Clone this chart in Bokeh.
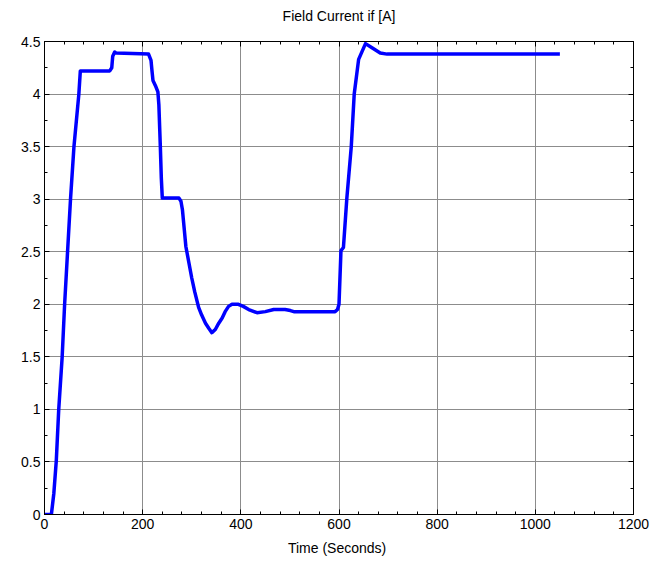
from bokeh.plotting import figure
from bokeh.models import LinearAxis, FixedTicker, Range1d, Grid, Title
from bokeh.embed import file_html
from bokeh.resources import INLINE

# Data
time_s = [0, 14, 19, 24, 29, 36, 41, 47, 53, 60, 70, 73,
          133, 137, 139, 143, 146, 212, 217, 219, 221, 226, 231, 233, 236, 238, 240,
          274, 278, 281, 283, 285, 288, 294, 300, 306, 314, 320, 328, 335, 341,
          348, 355, 362, 368, 375, 382, 395, 405, 416, 433, 450, 467, 490, 501, 508,
          592, 597, 600, 604, 609, 616, 625, 631, 640, 654,
          664, 684, 698, 1050]
field_current = [0, 0, 0.2, 0.51, 1.0, 1.5, 2.0, 2.5, 3.0, 3.5, 4.0, 4.22,
                 4.22, 4.25, 4.36, 4.40, 4.39, 4.38, 4.32, 4.22, 4.13, 4.08, 4.02, 3.9, 3.5, 3.2, 3.01,
                 3.01, 2.98, 2.9, 2.8, 2.7, 2.55, 2.4, 2.25, 2.12, 1.97, 1.9, 1.82, 1.77, 1.73,
                 1.76, 1.82, 1.87, 1.93, 1.98, 2.0, 2.0, 1.98, 1.95, 1.92, 1.93, 1.95, 1.95, 1.94, 1.93,
                 1.93, 1.95, 2.0, 2.51, 2.54, 3.01, 3.5, 4.0, 4.33, 4.48,
                 4.45, 4.39, 4.38, 4.38]
x_ticks = [0, 200, 400, 600, 800, 1000, 1200]
y_ticks = [0, 0.5, 1, 1.5, 2, 2.5, 3, 3.5, 4, 4.5]
y_tick_labels = {0: "0", 0.5: "0.5", 1: "1", 1.5: "1.5", 2: "2", 2.5: "2.5",
                 3: "3", 3.5: "3.5", 4: "4", 4.5: "4.5"}
title_text = "Field Current if [A]"

FONT = "Liberation Sans"

p = figure(width=669, height=567, output_backend="svg", toolbar_location=None,
           x_range=Range1d(0, 1200), y_range=Range1d(0, 4.5),
           x_axis_location=None, y_axis_location=None,
           min_border_left=44, min_border_right=36, min_border_top=40, min_border_bottom=53)
p.outline_line_color = "black"
p.background_fill_color = "white"
p.border_fill_color = "white"

minor_x = [v for v in range(0, 1201, 40)]
minor_y = [i * 0.25 for i in range(0, 19)]

def mk_axis(labels=True, xaxis=True):
    ax = LinearAxis()
    ax.ticker = FixedTicker(ticks=x_ticks if xaxis else y_ticks,
                            minor_ticks=minor_x if xaxis else minor_y)
    ax.major_tick_in = 5
    ax.major_tick_out = 0
    ax.minor_tick_in = 3
    ax.minor_tick_out = 0
    ax.axis_line_color = "black"
    ax.major_tick_line_color = "black"
    ax.minor_tick_line_color = "black"
    ax.major_label_text_font = FONT
    ax.major_label_text_font_size = "14px"
    ax.major_label_text_color = "black"
    if not labels:
        ax.major_label_text_font_size = "0px"
        ax.major_label_text_alpha = 0
        ax.major_label_standoff = 0
    return ax

bottom = mk_axis(True, True)
bottom.axis_label = "Time  (Seconds)"
bottom.axis_label_text_font = FONT
bottom.axis_label_text_font_size = "14px"
bottom.axis_label_text_font_style = "normal"
bottom.axis_label_text_color = "black"
bottom.axis_label_standoff = 8
bottom.major_label_standoff = 4
p.add_layout(bottom, "below")

left = mk_axis(True, False)
left.major_label_overrides = y_tick_labels
left.major_label_standoff = 4
p.add_layout(left, "left")

p.add_layout(mk_axis(False, True), "above")
p.add_layout(mk_axis(False, False), "right")

# spacer between frame and title, then the real title
p.add_layout(Title(text=" ", text_font_size="1px"), "above")
p.add_layout(Title(text=title_text, align="center", text_font=FONT, text_font_size="14px",
                   text_font_style="normal", text_color="black"), "above")

p.xgrid.grid_line_color = None
p.ygrid.grid_line_color = None
p.add_layout(Grid(dimension=0, ticker=bottom.ticker, grid_line_color="#8c8c8c", grid_line_width=1))
p.add_layout(Grid(dimension=1, ticker=left.ticker, grid_line_color="#8c8c8c", grid_line_width=1))

p.line(time_s, field_current, line_color="#0000ff", line_width=3.5, line_join="round")

open("out.html", "w").write(file_html(p, INLINE))
